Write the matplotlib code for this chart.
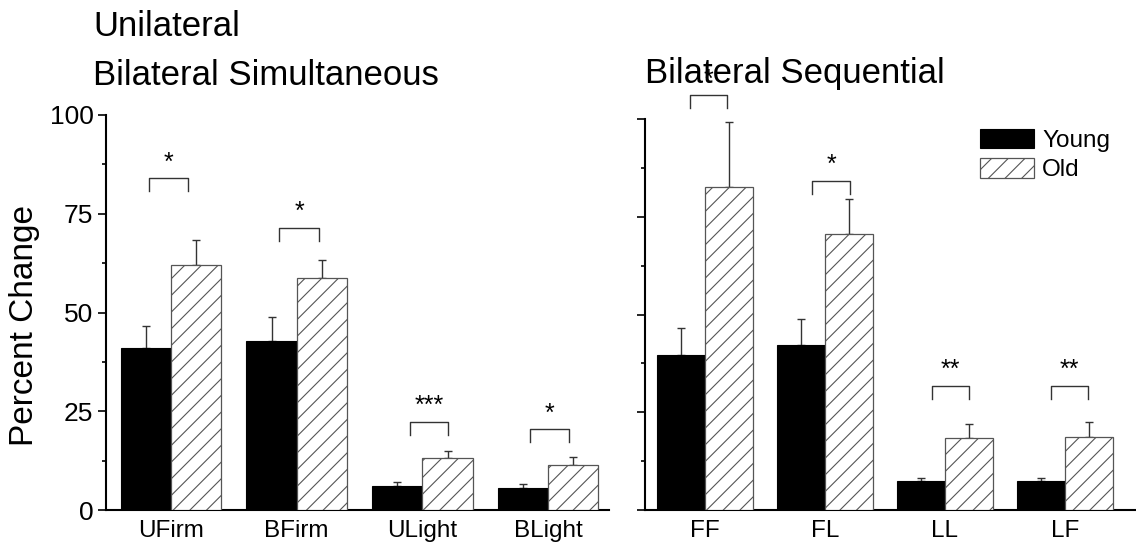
import matplotlib
matplotlib.use("Agg")
import matplotlib.pyplot as plt
import numpy as np
from matplotlib.ticker import MultipleLocator

plt.rcParams.update({
    "font.family": ["Liberation Sans", "DejaVu Sans"],
    "hatch.linewidth": 0.8,
})

# ---- data (percent change, mean and upper error) ----
cond_left = ["UFirm", "BFirm", "ULight", "BLight"]
young_left = [40.9, 42.8, 6.1, 5.7]
young_left_err = [5.7, 6.0, 0.9, 0.8]
old_left = [62.0, 58.8, 13.2, 11.4]
old_left_err = [6.4, 4.5, 1.7, 2.1]
sig_left = ["*", "*", "***", "*"]
brk_left_y = [84.0, 71.5, 22.4, 20.4]
brk_left_span = [(-0.175, 0.138), (-0.143, 0.180), (-0.099, 0.204), (-0.144, 0.166)]

cond_right = ["FF", "FL", "LL", "LF"]
young_right = [39.6, 42.3, 7.5, 7.3]
young_right_err = [6.9, 6.7, 0.8, 1.0]
old_right = [82.8, 70.7, 18.4, 18.7]
old_right_err = [16.5, 9.0, 3.7, 3.7]
sig_right = ["*", "*", "**", "**"]
brk_right_y = [106.1, 84.3, 31.8, 31.8]
brk_right_span = [(-0.125, 0.183), (-0.108, 0.208), (-0.108, 0.200), (-0.117, 0.192)]

BW = 0.4
LEG = 3.3
OLD_EDGE = "#555555"
ERR_C = "#333333"


def draw_panel(ax, cats, young, young_err, old, old_err, sig, brk_y, brk_span):
    x = np.arange(len(cats))
    yb = ax.bar(x - BW / 2, young, BW, color="black", edgecolor="black",
                linewidth=0.8, zorder=3, label="Young")
    ob = ax.bar(x + BW / 2, old, BW, color="white", edgecolor=OLD_EDGE,
                hatch="//", linewidth=0.9, zorder=3, label="Old")
    ax.errorbar(x - BW / 2, young, yerr=[np.zeros(len(x)), young_err], fmt="none",
                ecolor=ERR_C, elinewidth=1.0, capsize=3, capthick=1.0, zorder=2)
    ax.errorbar(x + BW / 2, old, yerr=[np.zeros(len(x)), old_err], fmt="none",
                ecolor=ERR_C, elinewidth=1.0, capsize=3, capthick=1.0, zorder=2)
    # significance brackets
    for xi, y, (l, r), s in zip(x, brk_y, brk_span, sig):
        ax.plot([xi + l, xi + l, xi + r, xi + r], [y - LEG, y, y, y - LEG],
                color=ERR_C, lw=1.0, clip_on=False, zorder=4)
        ax.text(xi + (l + r) / 2, y + 2.2, s, ha="center", va="baseline",
                fontsize=18, clip_on=False, zorder=5)
    ax.set_xticks(x)
    ax.set_xticklabels(cats, fontsize=17.5)
    ax.tick_params(axis="x", length=0, pad=7)
    ax.set_ylim(0, 100)
    ax.yaxis.set_major_locator(MultipleLocator(25))
    ax.yaxis.set_minor_locator(MultipleLocator(12.5))
    ax.tick_params(axis="y", which="major", length=6, width=1.2, pad=3, labelsize=19)
    ax.tick_params(axis="y", which="minor", length=3, width=1.2)
    for side in ("top", "right"):
        ax.spines[side].set_visible(False)
    for side in ("left", "bottom"):
        ax.spines[side].set_linewidth(1.5)
    return yb, ob


fig = plt.figure(figsize=(11.36, 5.46), dpi=100)
ax1 = fig.add_axes([0.0933, 0.0659, 0.5361 - 0.0933, 0.7894 - 0.0659])
ax2 = fig.add_axes([0.5678, 0.0659, 1.0 - 0.5678, 0.7815 - 0.0659])

draw_panel(ax1, cond_left, young_left, young_left_err, old_left, old_left_err,
           sig_left, brk_left_y, brk_left_span)
yb, ob = draw_panel(ax2, cond_right, young_right, young_right_err, old_right,
                    old_right_err, sig_right, brk_right_y, brk_right_span)

ax1.set_xlim(-0.517, 3.484)
ax2.set_xlim(-0.5, 3.592)
ax2.set_yticklabels([])

ax2.legend(handles=[yb, ob], loc="upper left", bbox_to_anchor=(0.683, 0.975),
           frameon=False, fontsize=17.5, handlelength=2.2, handleheight=0.85,
           handletextpad=0.35, labelspacing=0.25, borderpad=0, borderaxespad=0)

fig.text(0.0819, 0.934, "Unilateral", fontsize=25, va="baseline")
fig.text(0.0819, 0.8443, "Bilateral Simultaneous", fontsize=25, va="baseline")
fig.text(0.5678, 0.848, "Bilateral Sequential", fontsize=25, va="baseline")
fig.text(0.022, 1 - 325 / 546, "Percent Change", rotation=90, fontsize=24,
         ha="center", va="center")

fig.savefig("out.png", dpi=100)
